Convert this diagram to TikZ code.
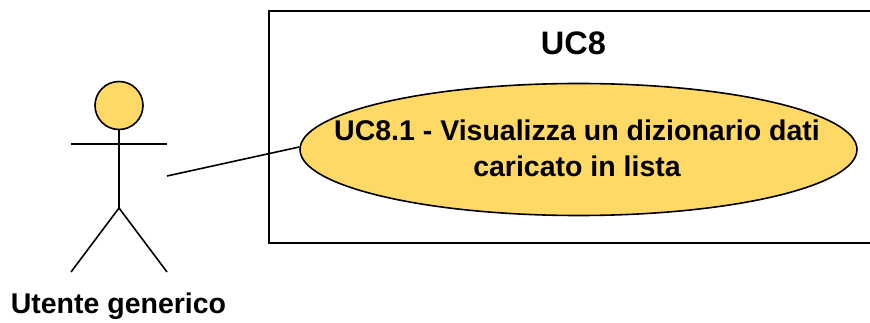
\documentclass[tikz,border=0pt]{standalone}
\usepackage{fontspec}
\setmainfont{Liberation Sans}
\usetikzlibrary{shapes.geometric}
\definecolor{ucfill}{HTML}{FFD966}
\tikzset{
  ln/.style={draw=black,line width=1.6pt},
  lab/.style={font=\fontsize{28.5}{35.5}\selectfont\bfseries,align=center,inner sep=0pt},
}
\begin{document}
\begin{tikzpicture}[x=1pt,y=-1pt]
\useasboundingbox (0,0) rectangle (870,323);
\draw[ln] (870,11) -- (269,11) -- (269,243) -- (870,243);
\node[lab,font=\fontsize{32.5}{38}\selectfont\bfseries] (title) at (573.5,43) {UC8};
\node[ellipse,ln,fill=ucfill,minimum width=557pt,minimum height=132pt,inner sep=0pt] (uc) at (578.5,149.5) {};
\node[lab] (uctext) at (577,148.5) {UC8.1 - Visualizza un dizionario dati\\caricato in lista};
\node[circle,ln,fill=ucfill,minimum size=48pt,inner sep=0pt] (head) at (119,105.5) {};
\coordinate (hip) at (119,208);
\coordinate (al) at (71,144);
\coordinate (ar) at (167,144);
\coordinate (fl) at (71,272);
\coordinate (fr) at (167,272);
\coordinate (hand) at (167,176);
\draw[ln] (head.south) -- (hip);
\draw[ln] (al) -- (ar);
\draw[ln] (fl) -- (hip) -- (fr);
\draw[ln] (hand) -- (uc.west |- 0,147);
\node[lab] (actor) at (118.5,306) {Utente generico};
\end{tikzpicture}
\end{document}
